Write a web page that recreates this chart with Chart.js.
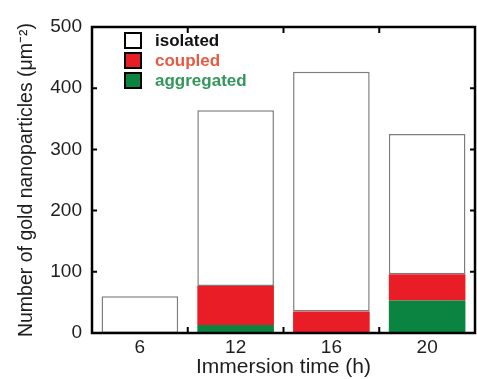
<!DOCTYPE html>
<html>
<head>
<meta charset="utf-8">
<script src="https://cdn.jsdelivr.net/npm/chart.js@4/dist/chart.umd.min.js"></script>
<style>
  html, body { margin: 0; padding: 0; background: #fff; }
  #wrap { width: 477px; height: 379px; }
</style>
</head>
<body>
<div id="wrap"><canvas id="chart"></canvas></div>
<script>
// Values (per µm², stacked)
const categories = ['6', '12', '16', '20'];
const aggregated = [0, 13, 0, 53];
const coupled = [0, 64, 35, 43];
const isolated = [60, 287, 392, 229];
const yTicks = [0, 100, 200, 300, 400, 500];

const textColor = '#1e1e1e';
Chart.defaults.font.family = '"Liberation Sans", Arial, sans-serif';
Chart.defaults.color = textColor;

// Frame with inward ticks, drawn over the bars
const framePlugin = {
    id: 'frame',
    afterDatasetsDraw(chart) {
        const { ctx, chartArea: a, scales: { x, y } } = chart;
        ctx.save();
        ctx.strokeStyle = '#000';
        ctx.lineWidth = 2.5;
        ctx.strokeRect(a.left, a.top, a.right - a.left, a.bottom - a.top);
        ctx.lineWidth = 2;
        ctx.beginPath();
        yTicks.slice(1, -1).forEach(v => {
            const py = y.getPixelForValue(v);
            ctx.moveTo(a.left, py); ctx.lineTo(a.left + 5, py);
            ctx.moveTo(a.right, py); ctx.lineTo(a.right - 5, py);
        });
        for (let i = 0; i < categories.length - 1; i++) {
            const px = (x.getPixelForValue(i) + x.getPixelForValue(i + 1)) / 2;
            ctx.moveTo(px, a.top); ctx.lineTo(px, a.top + 6);
            ctx.moveTo(px, a.bottom); ctx.lineTo(px, a.bottom - 6);
        }
        ctx.stroke();
        ctx.restore();
    }
};

// Legend inside the plot, upper left, with coloured text
const insideLegend = {
    id: 'insideLegend',
    afterDraw(chart) {
        const { ctx, chartArea: a } = chart;
        const items = chart.data.datasets.slice().reverse();
        ctx.save();
        ctx.font = 'bold 17px "Liberation Sans", Arial, sans-serif';
        ctx.textBaseline = 'middle';
        items.forEach((ds, i) => {
            const bx = a.left + 33;
            const by = a.top + 6 + i * 20;
            ctx.fillStyle = ds.legendFill;
            ctx.fillRect(bx, by, 16, 15);
            ctx.strokeStyle = '#000';
            ctx.lineWidth = 2;
            ctx.strokeRect(bx, by, 16, 15);
            ctx.fillStyle = ds.legendText;
            ctx.fillText(ds.label, bx + 30, by + 8);
        });
        ctx.restore();
    }
};

new Chart(document.getElementById('chart'), {
    type: 'bar',
    data: {
        labels: categories,
        datasets: [
            {
                label: 'aggregated',
                data: aggregated,
                backgroundColor: '#0b8442',
                borderWidth: 0,
                legendFill: '#0b8442',
                legendText: '#33965a'
            },
            {
                label: 'coupled',
                data: coupled,
                backgroundColor: '#e81d25',
                borderWidth: 0,
                legendFill: '#e81d25',
                legendText: '#e65a44'
            },
            {
                label: 'isolated',
                data: isolated,
                backgroundColor: '#ffffff',
                borderColor: '#7c7c7c',
                borderWidth: 1.5,
                borderSkipped: false,
                legendFill: '#ffffff',
                legendText: '#111111'
            }
        ]
    },
    options: {
        responsive: true,
        maintainAspectRatio: false,
        animation: false,
        devicePixelRatio: 1,
        layout: { padding: { top: 27, right: 2, left: 0, bottom: 0 } },
        datasets: {
            bar: { categoryPercentage: 1.0, barPercentage: 0.8 }
        },
        plugins: {
            legend: { display: false },
            tooltip: { enabled: false }
        },
        scales: {
            x: {
                stacked: true,
                grid: { display: false, drawTicks: false },
                border: { display: false },
                ticks: { padding: 3, font: { size: 19 }, color: textColor },
                title: {
                    display: true,
                    text: 'Immersion time (h)',
                    font: { size: 21, lineHeight: 1.0 },
                    color: textColor,
                    padding: { top: 0, bottom: 1 }
                },
                afterFit(scale) { scale.height = 46; }
            },
            y: {
                stacked: true,
                min: 0,
                max: 500,
                grid: { display: false, drawTicks: false },
                border: { display: false },
                ticks: { stepSize: 100, padding: 10, font: { size: 19 }, color: textColor },
                title: {
                    display: true,
                    text: 'Number of gold nanoparticles (μm⁻²)',
                    font: { size: 19.5, lineHeight: 1.0 },
                    color: textColor,
                    padding: { top: 17, bottom: 0 }
                },
                afterFit(scale) { scale.width = 92; }
            }
        }
    },
    plugins: [framePlugin, insideLegend]
});
</script>
</body>
</html>
